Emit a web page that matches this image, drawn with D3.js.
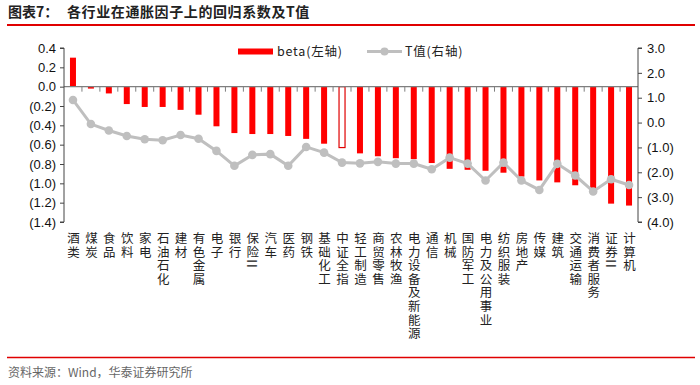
<!DOCTYPE html>
<html>
<head>
<meta charset="utf-8">
<script src="https://cdn.jsdelivr.net/npm/d3@7"></script>
<style>
    body { margin: 0; background: #fff; }
    #chart { position: relative; width: 700px; height: 385px; }
    svg text { font-family: "Liberation Sans", Arial, "Noto Sans CJK SC", sans-serif; }
    .cjk { font-family: "Noto Sans CJK SC", sans-serif; }
    .clabel {
        position: absolute;
        top: 232px;
        transform: translateX(-50%);
        writing-mode: vertical-rl;
        text-orientation: mixed;
        white-space: nowrap;
        font-family: "Noto Sans CJK SC", sans-serif;
        font-size: 12.5px;
        line-height: 14px;
        letter-spacing: 1.1px;
        color: #222;
    }
</style>
</head>
<body>
<div id="chart"></div>
<script>
// 行业
const categories = ['酒类', '煤炭', '食品', '饮料', '家电', '石油石化', '建材', '有色金属', '电子', '银行',
    '保险II', '汽车', '医药', '钢铁', '基础化工', '中证全指', '轻工制造', '商贸零售', '农林牧渔', '电力设备及新能源',
    '通信', '机械', '国防军工', '电力及公用事业', '纺织服装', '房地产', '传媒', '建筑', '交通运输', '消费者服务',
    '证券II', '计算机'];

// beta (左轴)
const betaValues = [0.30, -0.02, -0.07, -0.18, -0.21, -0.21, -0.24, -0.29, -0.41, -0.48,
    -0.49, -0.49, -0.51, -0.54, -0.59, -0.63, -0.69, -0.72, -0.74, -0.75,
    -0.79, -0.85, -0.86, -0.87, -0.89, -0.93, -0.97, -0.99, -1.02, -1.11,
    -1.21, -1.23];

// T值 (右轴)
const tValues = [0.91, -0.06, -0.32, -0.54, -0.67, -0.71, -0.50, -0.65, -1.14, -1.74,
    -1.30, -1.27, -1.74, -0.98, -1.21, -1.61, -1.64, -1.58, -1.65, -1.65,
    -1.88, -1.41, -1.65, -2.33, -1.61, -2.33, -2.71, -1.66, -2.13, -2.77,
    -2.28, -2.51];

const leftTicks = [0.4, 0.2, 0.0, -0.2, -0.4, -0.6, -0.8, -1.0, -1.2, -1.4];
const rightTicks = [3, 2, 1, 0, -1, -2, -3, -4];

const W = 700, H = 385;
const plot = { left: 64, right: 638, top: 48, bottom: 222 };

const svg = d3.select('#chart').append('svg')
    .attr('width', W)
    .attr('height', H);

// 數字格式 負數加括號
function fmt(d, n) {
    const s = Math.abs(d).toFixed(n);
    return d < -1e-9 ? '(' + s + ')' : s;
}

// title
svg.append('text').attr('class', 'cjk')
    .attr('x', 8).attr('y', 17)
    .attr('font-size', 14).attr('font-weight', 'bold').attr('fill', '#222')
    .text('图表7：');
svg.append('text').attr('class', 'cjk')
    .attr('x', 67).attr('y', 17)
    .attr('font-size', 14).attr('font-weight', 'bold').attr('fill', '#222')
    .attr('letter-spacing', 0.6)
    .text('各行业在通胀因子上的回归系数及T值');
svg.append('line')
    .attr('x1', 7).attr('x2', 695).attr('y1', 25).attr('y2', 25)
    .attr('stroke', '#e00000').attr('stroke-width', 2);

// scales
const x = d3.scaleBand().domain(categories).range([plot.left, plot.right]);
const yL = d3.scaleLinear().domain([-1.4, 0.4]).range([plot.bottom, plot.top]);
const yR = d3.scaleLinear().domain([-4, 3]).range([plot.bottom, plot.top]);

// bars
const barW = 6;
svg.selectAll('.bar')
    .data(categories)
    .enter()
    .append('rect')
    .attr('class', 'bar')
    .attr('x', function (d) { return x(d) + x.bandwidth() / 2 - barW / 2; })
    .attr('y', function (d, i) { return Math.min(yL(betaValues[i]), yL(0)); })
    .attr('width', barW)
    .attr('height', function (d, i) { return Math.abs(yL(betaValues[i]) - yL(0)); })
    .attr('fill', function (d) { return d === '中证全指' ? '#fff' : '#ff0000'; })
    .attr('stroke', function (d) { return d === '中证全指' ? '#e00000' : 'none'; })
    .attr('stroke-width', 1.2);

// zero line + category ticks
svg.append('line')
    .attr('x1', plot.left).attr('x2', plot.right)
    .attr('y1', yL(0)).attr('y2', yL(0))
    .attr('stroke', '#7f7f7f').attr('stroke-width', 1.2);
svg.selectAll('.ctick')
    .data(categories.slice(1))
    .enter()
    .append('line')
    .attr('x1', function (d) { return x(d); })
    .attr('x2', function (d) { return x(d); })
    .attr('y1', yL(0)).attr('y2', yL(0) + 5)
    .attr('stroke', '#7f7f7f').attr('stroke-width', 1);

// left axis
const axL = svg.append('g').attr('transform', 'translate(' + plot.left + ',0)')
    .call(d3.axisLeft(yL).tickValues(leftTicks).tickSize(4).tickPadding(4)
        .tickFormat(function (d) { return fmt(d, 1); }));
axL.select('.domain').attr('stroke', '#444').attr('d', 'M-4,' + plot.top + 'H0V' + plot.bottom + 'H-4');
axL.selectAll('line').attr('stroke', '#444');
axL.selectAll('text').attr('font-size', 13).attr('fill', '#111')
    .attr('font-family', '"Liberation Sans", Arial, sans-serif');

// right axis
const axR = svg.append('g').attr('transform', 'translate(' + plot.right + ',0)')
    .call(d3.axisRight(yR).tickValues(rightTicks).tickSize(4).tickPadding(5)
        .tickFormat(function (d) { return fmt(d, 1); }));
axR.select('.domain').attr('stroke', '#444').attr('d', 'M4,' + plot.top + 'H0V' + plot.bottom + 'H4');
axR.selectAll('line').attr('stroke', '#444');
axR.selectAll('text').attr('font-size', 13).attr('fill', '#111')
    .attr('font-family', '"Liberation Sans", Arial, sans-serif');

// T值 line
const line = d3.line()
    .x(function (d, i) { return x(categories[i]) + x.bandwidth() / 2; })
    .y(function (d) { return yR(d); });
svg.append('path')
    .datum(tValues)
    .attr('d', line)
    .attr('fill', 'none')
    .attr('stroke', '#bfbfbf')
    .attr('stroke-width', 3);
svg.selectAll('.dot')
    .data(tValues)
    .enter()
    .append('circle')
    .attr('class', 'dot')
    .attr('cx', function (d, i) { return x(categories[i]) + x.bandwidth() / 2; })
    .attr('cy', function (d) { return yR(d); })
    .attr('r', 4.3)
    .attr('fill', '#bfbfbf');

// category labels 直排, 一字一個 span ("II" 橫躺)
d3.select('#chart').selectAll('.clabel')
    .data(categories)
    .enter()
    .append('div')
    .attr('class', 'clabel')
    .style('left', function (d) { return (x(d) + x.bandwidth() / 2) + 'px'; })
    .selectAll('span')
    .data(function (d) { return d.match(/II|./g); })
    .enter()
    .append('span')
    .text(function (d) { return d; });

// legend
const lg = svg.append('g');
lg.append('rect').attr('x', 238).attr('y', 48.5).attr('width', 35).attr('height', 6).attr('fill', '#ff0000');
lg.append('text').attr('class', 'cjk').attr('x', 277).attr('y', 56)
    .attr('font-size', 12.5).attr('fill', '#222').attr('letter-spacing', 0.8).text('beta(左轴)');
lg.append('line').attr('x1', 367).attr('x2', 402).attr('y1', 51.5).attr('y2', 51.5)
    .attr('stroke', '#bfbfbf').attr('stroke-width', 3);
lg.append('circle').attr('cx', 384.5).attr('cy', 51.5).attr('r', 4).attr('fill', '#bfbfbf');
lg.append('text').attr('class', 'cjk').attr('x', 405).attr('y', 56)
    .attr('font-size', 12.5).attr('fill', '#222').attr('letter-spacing', 0.8).text('T值(右轴)');

// footer
svg.append('line')
    .attr('x1', 7).attr('x2', 695).attr('y1', 357.5).attr('y2', 357.5)
    .attr('stroke', '#e00000').attr('stroke-width', 1.5);
svg.append('text').attr('class', 'cjk')
    .attr('x', 8).attr('y', 377)
    .attr('font-size', 12).attr('fill', '#666')
    .text('资料来源：Wind，华泰证券研究所');
</script>
</body>
</html>
